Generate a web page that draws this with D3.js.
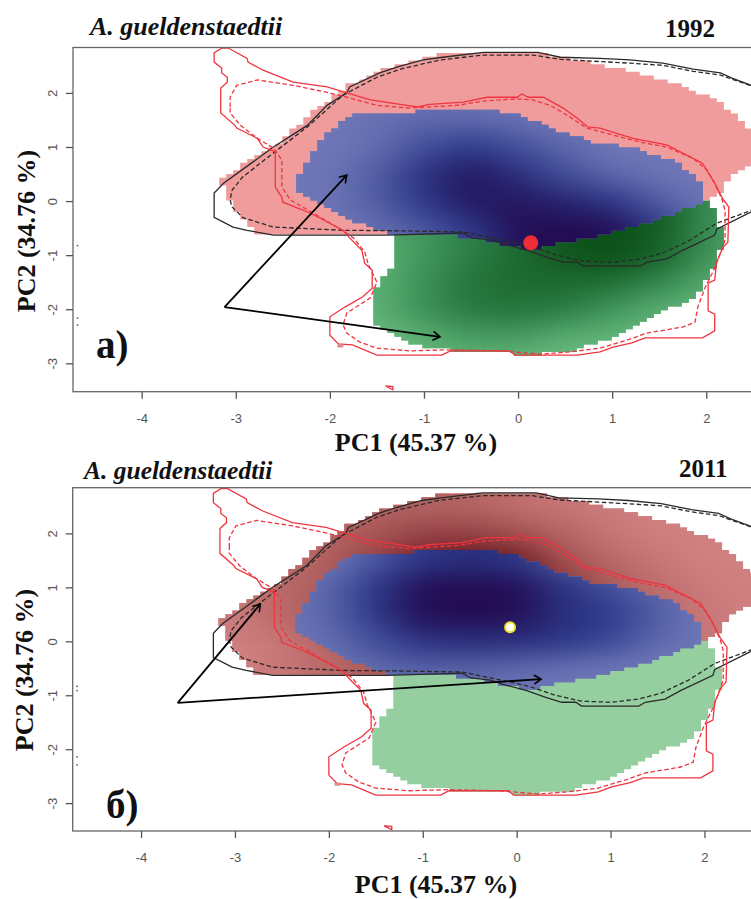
<!DOCTYPE html>
<html>
<head>
<meta charset="utf-8">
<script src="https://cdn.jsdelivr.net/npm/d3@7"></script>
<style>
	html, body { margin: 0; background: #fff; overflow: hidden; }
	svg { display: block; }
	.title, .year, .axis-title, .panel-tag { font-family: "Liberation Serif", serif; font-weight: bold; fill: #111; }
	.title { font-style: italic; }
	.tick text { font-family: "Liberation Sans", sans-serif; font-size: 13px; fill: #555; }
</style>
</head>
<body>
<svg id="chart" width="751" height="899"></svg>
<script>
const xTicks = [-4, -3, -2, -1, 0, 1, 2];
const yTicks = [-3, -2, -1, 0, 1, 2];

// niche regions, PC1/PC2
const redRegion = [[-3.06,.02],[-3.17,.39],[-3.03,.56],[-2.6,1],[-2.24,1.57],[-1.82,2.13],[-1.5,2.4],[-1.15,2.57],[-.8,2.72],[-.37,2.76],[.16,2.76],[.45,2.66],[.87,2.53],[1.3,2.35],[1.69,2.16],[2.04,1.92],[2.33,1.61],[2.48,1.28],[2.6,1.2],[2.6,.63],[2.48,.63],[2.31,.52],[2.18,.24],[2.13,.11],[1.98,.02],[-1.38,-.65],[-2.6,-.65],[-2.77,-.59],[-2.9,-.41],[-2.99,-.17]];
const blueRegion = [[-2.34,.43],[-2.34,.2],[-2.18,.02],[-1.86,-.3],[-1.5,-.54],[-1.38,-.59],[-.51,-.67],[-.12,-.81],[.1,-.91],[.45,-.78],[.8,-.67],[1.22,-.48],[1.69,-.22],[1.97,-.02],[1.98,.2],[1.9,.44],[1.69,.72],[1.22,.98],[.8,1.09],[.45,1.28],[.16,1.5],[-.14,1.65],[-.44,1.72],[-1.15,1.65],[-1.59,1.65],[-1.82,1.55],[-2.03,1.26],[-2.18,.89],[-2.25,.67]];
const greenRegion = [[-1.31,-.67],[-1.31,-1.15],[-1.38,-1.28],[-1.45,-1.5],[-1.52,-1.68],[-1.52,-2.31],[-1.38,-2.44],[-1.25,-2.57],[-1.02,-2.7],[-.8,-2.75],[-.09,-2.79],[-.05,-2.87],[.21,-2.87],[.23,-2.81],[.52,-2.81],[.66,-2.7],[1.05,-2.51],[1.33,-2.26],[1.62,-1.98],[1.9,-1.77],[1.99,-1.52],[2.11,-1.13],[2.13,-.96],[2.2,-.67],[2.11,-.3],[2.06,-.02],[1.93,.02],[-.19,.02]];

// contour lines
const blackSolid = [[2.8,-.02],[2.48,-.2],[2.11,-.52],[2.09,-.63],[1.75,-.91],[1.58,-1.07],[1.37,-1.13],[1.3,-1.2],[.69,-1.2],[.63,-1.13],[.48,-1.13],[.31,-1.04],[.1,-.91],[-.12,-.81],[-.28,-.72],[-.49,-.68],[-.58,-.59],[-1.38,-.63],[-2.6,-.63],[-2.88,-.54],[-3.03,-.48],[-3.23,-.3],[-3.23,.15],[-3.13,.33],[-2.82,.72],[-2.6,1],[-2.24,1.4],[-2.03,1.77],[-1.82,2],[-1.79,2.11],[-1.47,2.37],[-1.28,2.48],[-1.01,2.61],[-.8,2.66],[-.37,2.75],[.21,2.75],[.45,2.66],[.87,2.64],[1.19,2.61],[1.54,2.55],[1.86,2.44],[2.15,2.37],[2.28,2.27],[2.48,2.14],[2.8,1.9]];
const blackDashed = [[2.8,0],[2.48,-.17],[2.11,-.41],[1.83,-.72],[1.54,-.96],[1.3,-1.07],[1.01,-1.13],[.69,-1.11],[.41,-1],[.16,-.85],[-.05,-.76],[-.3,-.67],[-.58,-.57],[-1.25,-.55],[-1.86,-.54],[-2.6,-.48],[-2.92,-.31],[-3.04,-.11],[-3.06,.02],[-3.04,.2],[-2.93,.44],[-2.6,.89],[-2.24,1.37],[-1.86,1.96],[-1.5,2.29],[-1.25,2.44],[-.83,2.61],[-.37,2.7],[.16,2.7],[.45,2.62],[1.19,2.55],[1.54,2.51],[1.86,2.4],[2.15,2.33],[2.48,2.13],[2.8,1.85]];
const redSolid = [[-3.08,2.83],[-3.15,2.83],[-3.23,2.74],[-3.23,2.57],[-3.15,2.46],[-3.15,2.37],[-3.09,2.29],[-3.09,2.2],[-3.16,2.09],[-3.16,1.63],[-3.01,1.4],[-2.99,1.35],[-2.77,1.16],[-2.71,1],[-2.58,.91],[-2.58,.26],[-2.51,.07],[-2.5,-.02],[-2.21,-.22],[-1.86,-.54],[-1.79,-.68],[-1.66,-.91],[-1.63,-1.15],[-1.55,-1.28],[-1.55,-1.61],[-1.65,-1.77],[-1.84,-1.96],[-2,-2.14],[-2,-2.48],[-1.91,-2.64],[-1.76,-2.66],[-1.5,-2.85],[-.81,-2.85],[-.72,-2.77],[-.09,-2.77],[-.03,-2.85],[.63,-2.85],[.87,-2.79],[1.01,-2.7],[1.21,-2.62],[1.35,-2.53],[1.96,-2.53],[2.09,-2.4],[2.09,-2.09],[2.02,-2.03],[2.02,-1.52],[2.09,-1.46],[2.11,-1.13],[2.18,-.85],[2.23,-.76],[2.24,-.11],[2.17,.06],[2.09,.33],[1.96,.7],[1.58,1.04],[1.22,1.16],[.87,1.35],[.74,1.37],[.63,1.53],[.48,1.72],[.27,1.92],[.11,1.92],[.04,1.98],[-.01,1.92],[-.33,1.92],[-.58,1.83],[-.94,1.79],[-1.07,1.74],[-1.25,1.79],[-1.57,1.87],[-1.82,2],[-2.03,2.11],[-2.39,2.2],[-2.71,2.42],[-2.87,2.57],[-2.88,2.64]];
const redDashed = [[-3.06,1.74],[-3.06,1.92],[-2.99,2.14],[-2.77,2.24],[-2.39,2.14],[-2.03,2.01],[-1.82,1.92],[-1.5,1.77],[-1.15,1.72],[-.65,1.77],[-.37,1.85],[-.01,1.89],[.16,1.87],[.34,1.77],[.52,1.59],[.73,1.35],[1.01,1.22],[1.3,1.09],[1.58,1],[1.86,.79],[2.01,.57],[2.09,.33],[2.17,.02],[2.2,-.17],[2.2,-.72],[2.09,-1.24],[1.99,-1.59],[1.91,-1.96],[1.88,-2.24],[1.75,-2.33],[1.37,-2.44],[1.16,-2.57],[.87,-2.72],[.55,-2.79],[.23,-2.83],[-.19,-2.77],[-.72,-2.75],[-1.15,-2.77],[-1.5,-2.72],[-1.68,-2.61],[-1.82,-2.44],[-1.86,-2.29],[-1.82,-2.07],[-1.57,-1.79],[-1.5,-1.5],[-1.59,-1.18],[-1.63,-.94],[-1.75,-.68],[-1.86,-.55],[-2.14,-.26],[-2.42,.02],[-2.51,.26],[-2.51,.76],[-2.6,.98],[-2.77,1.16],[-2.95,1.4],[-3.06,1.63]];
const redSpeck = [[-1.41,-3.42],[-1.33,-3.43],[-1.33,-3.49]];

// density read by eye on a 0.5 x 0.5 PC grid (0 = pale edge, 1 = darkest)
const blueX = [-2.5, -2, -1.5, -1, -.5, 0, .5, 1, 1.5, 2];
const blueY = [2, 1.5, 1, .5, 0, -.5, -1, -1.5];
const blueDensity1992 = [
	[0,0,0,0,0,0,0,0,0,0],
	[0,0,.05,.12,.12,.05,0,0,0,0],
	[0,0,.08,.3,.45,.3,.12,0,0,0],
	[0,.02,.2,.55,.85,.6,.3,.12,.02,0],
	[0,.02,.2,.5,.85,.85,.7,.5,.2,.02],
	[0,0,.08,.25,.5,.95,1,.95,.5,.05],
	[0,0,0,.15,.4,.9,1,.95,.4,0],
	[0,0,0,.15,.4,.9,1,.95,.4,0]
];
const blueDensity2011 = [
	[0,0,.25,.5,.6,.5,.2,0,0,0],
	[0,0,.25,.5,.6,.5,.2,0,0,0],
	[0,.15,.5,.95,1,.95,.55,.3,.12,0],
	[0,.15,.5,.95,1,.95,.6,.45,.2,0],
	[0,.08,.3,.55,.6,.6,.5,.35,.12,0],
	[0,0,.12,.18,.18,.12,.06,.02,0,0],
	[0,0,0,0,0,0,0,0,0,0],
	[0,0,0,0,0,0,0,0,0,0]
];
const greenX = [-2, -1.5, -1, -.5, 0, .5, 1, 1.5, 2, 2.5];
const greenY = [.5, 0, -.5, -1, -1.5, -2, -2.5, -3];
const greenDensity1992 = [
	[.2,.2,.3,.4,.6,.95,1,.85,.4,.1],
	[.2,.2,.3,.4,.6,.95,1,.85,.4,.1],
	[.2,.2,.3,.45,.7,.95,1,.85,.4,.1],
	[.1,.12,.3,.5,.7,.9,1,.8,.35,.1],
	[.1,.12,.35,.6,.7,.72,.65,.42,.2,.05],
	[.05,.12,.35,.55,.6,.5,.32,.15,.05,0],
	[0,.05,.15,.28,.28,.16,.1,.02,0,0],
	[0,0,.05,.05,.05,0,0,0,0,0]
];
const redX = [-3.5, -3, -2.5, -2, -1.5, -1, -.5, 0, .5, 1, 1.5, 2, 2.5];
const redY = [3, 2.5, 2, 1.5, 1, .5, 0, -.5, -1];
const redDensity2011 = [
	[.1,.1,.1,.2,.3,.3,.3,.2,.1,.05,0,0,0],
	[.1,.1,.1,.2,.3,.3,.3,.2,.1,.05,0,0,0],
	[.1,.1,.1,.3,.45,.6,.6,.5,.3,.1,.02,0,0],
	[.1,.1,.2,.35,.6,.85,.95,.9,.5,.25,.1,0,0],
	[.1,.1,.25,.4,.6,.9,1,1,.7,.4,.2,.05,0],
	[.05,.05,.25,.4,.6,.8,.9,.9,.7,.4,.25,.1,0],
	[0,0,.1,.3,.5,.6,.6,.6,.4,.3,.2,.1,0],
	[0,0,.1,.25,.4,.5,.5,.5,.3,.2,.1,.1,0],
	[0,0,.1,.25,.4,.5,.5,.5,.3,.2,.1,.1,0]
];

const svg = d3.select("#chart");
const defs = svg.append("defs");

defs.append("marker")
	.attr("id", "arrowhead")
	.attr("markerUnits", "userSpaceOnUse")
	.attr("viewBox", "-9 -6 11 12")
	.attr("markerWidth", 11)
	.attr("markerHeight", 12)
	.attr("orient", "auto")
	.append("path")
	.attr("d", "M-7,-4.5L0,0L-7,4.5")
	.attr("fill", "none")
	.attr("stroke", "#000")
	.attr("stroke-width", 1.6);

const blurFilter = defs.append("filter")
	.attr("id", "soft")
	.attr("filterUnits", "userSpaceOnUse")
	.attr("x", 0).attr("y", 0).attr("width", 800).attr("height", 899)
	.attr("color-interpolation-filters", "sRGB");
blurFilter.append("feGaussianBlur").attr("stdDeviation", "20 12");

const blueColor = d3.scaleLinear().domain([0, .45, 1]).range(["#7078b8", "#2c3b8c", "#220a50"]);
const greenColor = d3.scaleLinear().domain([0, .45, 1]).range(["#6fc084", "#2c8048", "#0a4d14"]);
const redColor = d3.scaleLinear().domain([0, .5, 1]).range(["#d08080", "#a25050", "#5e0c18"]);

const panels = [
	{
		id: "a", title: "A. gueldenstaedtii", year: "1992", tag: "a)",
		titleSize: 26,
		left: 73, right: 762.7, top: 47.5, bottom: 391.7,
		xDomain: [-4.73, 2.6], yDomain: [-3.525, 2.84],
		titleX: 90, titleY: 35, yearX: 665, yearY: 37, tagX: 96, tagY: 358,
		xTitleX: 416, xTitleY: 451, yTitleX: 35, yTitleY: 231,
		green: { flat: null, density: greenDensity1992 },
		red: { flat: "#f09c9d", density: null },
		blue: { density: blueDensity1992 },
		origin: [-3.12, -1.96], arrows: [[-1.82, .48], [-.83, -2.51]],
		point: [.135, -.77], pointFill: "#ee2c36", pointStroke: "none", pointR: 7.5,
		specks: [[-4.69, -.81], [-4.69, -2.15], [-4.69, -2.28]], pinkBit: [-1.92, -2.65]
	},
	{
		id: "b", title: "A. gueldenstaedtii", year: "2011", tag: "б)",
		titleSize: 25.5,
		left: 72.7, right: 760.8, top: 487.7, bottom: 831,
		xDomain: [-4.728, 2.6], yDomain: [-3.516, 2.847],
		titleX: 84, titleY: 479, yearX: 679, yearY: 477, tagX: 106, tagY: 818,
		xTitleX: 436, xTitleY: 893, yTitleX: 33, yTitleY: 670,
		green: { flat: "#96cf9f", density: null },
		red: { flat: null, density: redDensity2011 },
		blue: { density: blueDensity2011 },
		origin: [-3.61, -1.14], arrows: [[-2.73, .69], [.26, -.7]],
		point: [-.07, .26], pointFill: "#fff", pointStroke: "#eee21a", pointR: 5,
		specks: [[-4.69, -.82], [-4.69, -.9], [-4.69, -2.13], [-4.69, -2.28]], pinkBit: [-1.94, -2.62]
	}
];

panels.forEach(drawPanel);

function drawPanel(p) {
	const x = d3.scaleLinear().domain(p.xDomain).range([p.left, p.right]);
	const y = d3.scaleLinear().domain(p.yDomain).range([p.bottom, p.top]);
	const g = svg.append("g").attr("class", "panel-" + p.id);
	const line = d3.line().x(d => x(d[0])).y(d => y(d[1]));

	drawRegion(g, p.id + "-green", greenRegion, x, y, greenColor, p.green.flat, greenX, greenY, p.green.density);
	drawRegion(g, p.id + "-red", redRegion, x, y, redColor, p.red.flat, redX, redY, p.red.density);
	drawRegion(g, p.id + "-blue", blueRegion, x, y, blueColor, null, blueX, blueY, p.blue.density);

	drawContour(g, line, blackSolid, "#2a2a2a", null, false);
	drawContour(g, line, blackDashed, "#2a2a2a", "4.5 2.5", false);
	drawContour(g, line, redSolid, "#f0343f", null, true);
	drawContour(g, line, redDashed, "#f0343f", "4.5 2.5", true);
	drawContour(g, line, redSpeck, "#f0343f", null, true);

	g.selectAll("rect.speck")
		.data(p.specks)
		.enter()
		.append("rect")
		.attr("class", "speck")
		.attr("x", d => x(d[0]))
		.attr("y", d => y(d[1]))
		.attr("width", 1.5)
		.attr("height", 1.5)
		.attr("fill", "#555");

	g.append("rect")
		.attr("x", x(p.pinkBit[0]))
		.attr("y", y(p.pinkBit[1]))
		.attr("width", 6)
		.attr("height", 3)
		.attr("fill", "#d88");

	g.selectAll("line.arrow")
		.data(p.arrows)
		.enter()
		.append("line")
		.attr("class", "arrow")
		.attr("x1", x(p.origin[0]))
		.attr("y1", y(p.origin[1]))
		.attr("x2", d => x(d[0]))
		.attr("y2", d => y(d[1]))
		.attr("stroke", "#000")
		.attr("stroke-width", 1.8)
		.attr("marker-end", "url(#arrowhead)");

	g.append("circle")
		.attr("cx", x(p.point[0]))
		.attr("cy", y(p.point[1]))
		.attr("r", p.pointR)
		.attr("fill", p.pointFill)
		.attr("stroke", p.pointStroke)
		.attr("stroke-width", 2);

	// frame and axes
	g.append("rect")
		.attr("x", p.left)
		.attr("y", p.top)
		.attr("width", p.right - p.left)
		.attr("height", p.bottom - p.top)
		.attr("fill", "none")
		.attr("stroke", "#666")
		.attr("stroke-width", 1.3);

	const xAxis = g.append("g")
		.attr("transform", `translate(0,${p.bottom})`)
		.call(d3.axisBottom(x).tickValues(xTicks).tickSize(7).tickPadding(15).tickFormat(d => String(d)));
	const yAxis = g.append("g")
		.attr("transform", `translate(${p.left},0)`)
		.call(d3.axisLeft(y).tickValues(yTicks).tickSize(7).tickPadding(12).tickFormat(d => String(d)));

	xAxis.select(".domain").remove();
	yAxis.select(".domain").remove();
	xAxis.selectAll(".tick line").attr("stroke", "#555").attr("stroke-width", 1.3);
	yAxis.selectAll(".tick line").attr("stroke", "#555").attr("stroke-width", 1.3);
	yAxis.selectAll(".tick text")
		.attr("transform", "rotate(-90)")
		.attr("x", 0)
		.attr("y", -16)
		.attr("dy", 0)
		.attr("text-anchor", "middle");

	g.append("text").attr("class", "title").attr("x", p.titleX).attr("y", p.titleY)
		.attr("font-size", p.titleSize).text(p.title);
	g.append("text").attr("class", "year").attr("x", p.yearX).attr("y", p.yearY)
		.attr("font-size", 25).text(p.year);
	g.append("text").attr("class", "panel-tag").attr("x", p.tagX).attr("y", p.tagY)
		.attr("font-size", 39).text(p.tag);
	g.append("text").attr("class", "axis-title").attr("x", p.xTitleX).attr("y", p.xTitleY)
		.attr("text-anchor", "middle").attr("font-size", 26).text("PC1 (45.37 %)");
	g.append("text").attr("class", "axis-title")
		.attr("transform", `translate(${p.yTitleX},${p.yTitleY}) rotate(-90)`)
		.attr("text-anchor", "middle").attr("font-size", 26).text("PC2 (34.76 %)");
}

function drawContour(g, line, points, color, dash, closed) {
	g.append("path")
		.attr("d", line(points) + (closed ? "Z" : ""))
		.attr("fill", "none")
		.attr("stroke", color)
		.attr("stroke-width", 1.3)
		.attr("stroke-dasharray", dash);
}

// the stepped outline comes from testing raster cells against the region polygon
function drawRegion(g, id, region, x, y, color, flat, gridX, gridY, density) {
	const stepX = 0.0745;
	const stepY = 0.07;
	let d = "";
	for (const cx of d3.range(-3.4, 2.7, stepX)) {
		for (const cy of d3.range(-3, 2.8, stepY)) {
			if (d3.polygonContains(region, [cx + stepX / 2, cy + stepY / 2])) {
				d += `M${x(cx)},${y(cy + stepY)}H${x(cx + stepX)}V${y(cy)}H${x(cx)}Z`;
			}
		}
	}
	defs.append("clipPath").attr("id", "clip-" + id).append("path").attr("d", d);

	const layer = g.append("g").attr("clip-path", `url(#clip-${id})`);
	layer.append("rect")
		.attr("x", x(-4)).attr("y", y(3))
		.attr("width", x(3) - x(-4)).attr("height", y(-3.5) - y(3))
		.attr("fill", flat || color(0));
	if (!density) return;

	const cells = [];
	gridY.forEach((gy, r) => gridX.forEach((gx, c) => cells.push({ gx, gy, v: density[r][c] })));
	layer.append("g")
		.attr("filter", "url(#soft)")
		.selectAll("rect")
		.data(cells)
		.enter()
		.append("rect")
		.attr("x", d => x(d.gx - .25))
		.attr("y", d => y(d.gy + .25))
		.attr("width", x(.5) - x(0))
		.attr("height", y(0) - y(.5))
		.attr("fill", d => color(d.v));
}
</script>
</body>
</html>
